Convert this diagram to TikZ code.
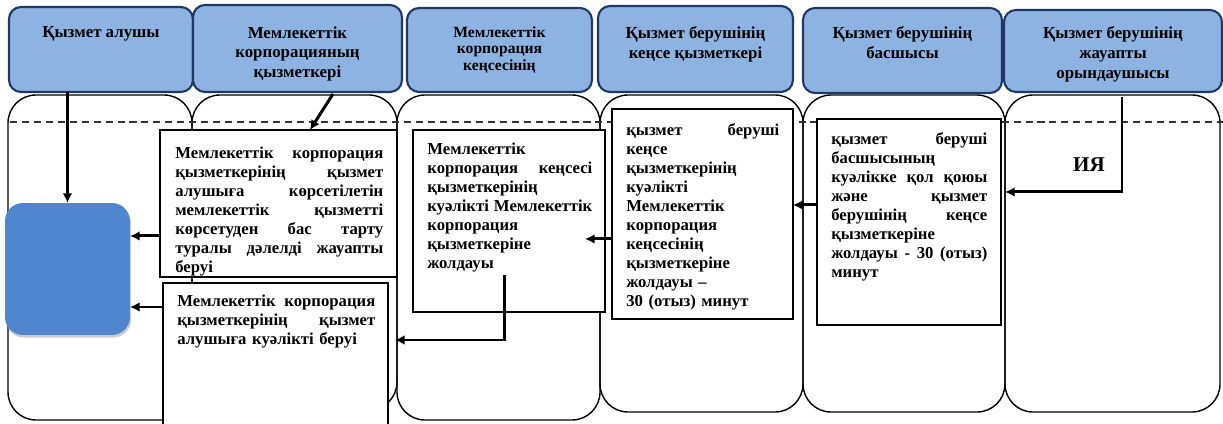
\documentclass[tikz,border=0pt]{standalone}
\usepackage{fontspec}
\setmainfont{Liberation Serif}
\usepackage{tikz}
\usetikzlibrary{arrows.meta,positioning,shadows}
\definecolor{headfill}{HTML}{8DB3E2}
\definecolor{headline}{HTML}{1F3864}
\definecolor{endblue}{HTML}{4F86CD}

\begin{document}
\begin{tikzpicture}[x=0.02cm,y=-0.02cm,
  lane/.style={draw,line width=0.8pt,rounded corners=0.56cm},
  head/.style={draw=headline,line width=1.2pt,fill=headfill,rounded corners=0.24cm,
    anchor=north west,inner sep=0pt,outer sep=0pt},
  headtext/.style={anchor=north,align=center,inner sep=0pt,
    font=\bfseries\fontsize{9.6}{11.3}\selectfont},
  stepbox/.style={draw,line width=0.8pt,fill=white,anchor=north west,inner sep=0pt,outer sep=0pt},
  steptext/.style={anchor=north west,align=left,inner sep=0pt,
    font=\bfseries\fontsize{9.5}{10.8}\selectfont},
  flow/.style={line width=1.7pt,-{Latex[length=5.5pt,width=5.5pt]}}]
  \useasboundingbox (0,0) rectangle (1223,423);

  % Swim lanes
  \draw[lane] (8,95) rectangle (192,420);
  \draw[lane] (192,95) rectangle (397,410);
  \draw[lane] (397,95) rectangle (600,420);
  \draw[lane] (600,95) rectangle (803,412);
  \draw[lane] (803,95) rectangle (1005,412);
  \draw[lane] (1005,95) rectangle (1220,412);
  \draw[line width=0.7pt,black!80,dash pattern=on 4pt off 2.8pt] (10,122) -- (1223,122);

  % Lane headers
  \node[head,minimum width=3.68cm,minimum height=1.70cm] (recvHead) at (9,7) {};
  \node[head,minimum width=4.18cm,minimum height=1.74cm] (staffHead) at (193,5) {};
  \node[head,minimum width=3.70cm,minimum height=1.68cm] (officeHead) at (407,8) {};
  \node[head,minimum width=3.90cm,minimum height=1.72cm] (clerkHead) at (598,6) {};
  \node[head,minimum width=3.98cm,minimum height=1.70cm] (chiefHead) at (803,8) {};
  \node[head,minimum width=4.36cm,minimum height=1.64cm] (execHead) at (1004,10) {};

  \coordinate (hrow) at (0,26);
  \node[headtext] at (recvHead.north |- hrow) {Қызмет алушы};
  \node[headtext] at (staffHead.north |- hrow) {Мемлекеттік\\корпорацияның\\қызметкері};
  \node[headtext,font=\bfseries\fontsize{8.9}{9.4}\selectfont] at (officeHead.north |- hrow)
    {Мемлекеттік\\корпорация\\кеңсесінің};
  \node[headtext] at (clerkHead.north |- hrow) {Қызмет берушінің\\кеңсе қызметкері};
  \node[headtext] at (chiefHead.north |- hrow) {Қызмет берушінің\\басшысы};
  \node[headtext] at (execHead.north |- hrow) {Қызмет берушінің\\жауапты\\орындаушысы};

  % Service recipient
  \node[fill=endblue,rounded corners=0.36cm,minimum width=2.5cm,minimum height=2.64cm,
    anchor=north west,inner sep=0pt,outer sep=0pt,
    drop shadow={shadow xshift=0.6pt,shadow yshift=-1.5pt,fill=black!40}] (recvEnd) at (5,203) {};

  % Step boxes
  \node[stepbox,minimum width=4.74cm,minimum height=2.94cm] (refuseBox) at (160,130) {};
  \node[stepbox,minimum width=4.50cm,minimum height=2.90cm] (issueBox) at (163,283) {};
  \node[stepbox,minimum width=3.84cm,minimum height=3.64cm] (officeBox) at (413,130) {};
  \node[stepbox,minimum width=3.62cm,minimum height=4.20cm] (clerkBox) at (612,109) {};
  \node[stepbox,minimum width=3.68cm,minimum height=4.12cm] (chiefBox) at (817,119) {};

  \node[steptext,text width=4.16cm] at ([xshift=0.30cm,yshift=-0.34cm]refuseBox.north west)
    {Мемлекеттік\hfill корпорация\\ қызметкерінің\hfill қызмет\\ алушыға\hfill көрсетілетін\\
     мемлекеттік\hfill қызметті\\ көрсетуден\hfill бас\hfill тарту\\ туралы\hfill дәлелді\hfill жауапты\\ беруі};
  \node[steptext,text width=3.96cm] at ([xshift=0.28cm,yshift=-0.24cm]issueBox.north west)
    {Мемлекеттік\hfill корпорация\\ қызметкерінің\hfill қызмет\\ алушыға куәлікті беруі};
  \node[steptext,text width=3.30cm] at ([xshift=0.28cm,yshift=-0.26cm]officeBox.north west)
    {Мемлекеттік\\ корпорация\hfill кеңсесі\\ қызметкерінің\\ куәлікті\hfill Мемлекеттік\\
     корпорация\\ қызметкеріне\\ жолдауы};
  \node[steptext,text width=3.06cm] at ([xshift=0.28cm,yshift=-0.28cm]clerkBox.north west)
    {қызмет\hfill беруші\\ кеңсе\\ қызметкерінің\\ куәлікті\\ Мемлекеттік\\ корпорация\\
     кеңсесінің\\ қызметкеріне\\ жолдауы –\\ 30 (отыз) минут};
  \node[steptext,text width=3.12cm] at ([xshift=0.28cm,yshift=-0.26cm]chiefBox.north west)
    {қызмет\hfill беруші\\ басшысының\\ куәлікке\hfill қол\hfill қоюы\\ және\hfill қызмет\\
     берушінің\hfill кеңсе\\ қызметкеріне\\ жолдауы\hfill -\hfill 30\hfill (отыз)\\ минут};

  \node[inner sep=0pt,font=\bfseries\fontsize{12}{14}\selectfont] (yesLabel) at (1089,165) {ИЯ};

  % Connectors
  \draw[flow] (recvEnd.north |- recvHead.south) -- (recvEnd.north);
  \draw[flow] ([xshift=0.71cm,yshift=-0.04cm]staffHead.south) -- ([xshift=0.63cm]refuseBox.north);

  \coordinate (refuseOut) at ([yshift=-0.65cm]refuseBox.west);
  \draw[flow] (refuseOut) -- (refuseOut -| recvEnd.east);
  \coordinate (issueOut) at ([yshift=-0.48cm]issueBox.north west);
  \draw[flow] (issueOut) -- (issueOut -| recvEnd.east);

  \coordinate (officeOut) at ([xshift=1.84cm,yshift=-2.9cm]officeBox.north west);
  \coordinate (issueIn) at ([xshift=0.14cm,yshift=-1.14cm]issueBox.north east);
  \draw[flow] (officeOut) |- (issueIn);

  \coordinate (clerkOut) at ([yshift=-0.5cm]clerkBox.west);
  \coordinate (officeIn) at (clerkOut -| officeBox.east);
  \draw[flow] (clerkOut) -- ([xshift=-0.4cm]officeIn);

  \coordinate (chiefOut) at ([yshift=0.34cm]chiefBox.west);
  \draw[flow] (chiefOut) -- (chiefOut -| clerkBox.east);

  \coordinate (execOut) at ([xshift=0.18cm,yshift=-0.1cm]execHead.south);
  \coordinate (chiefIn) at ([xshift=0.08cm,yshift=0.6cm]chiefBox.east);
  \draw[flow] (execOut) |- (chiefIn);
\end{tikzpicture}
\end{document}
